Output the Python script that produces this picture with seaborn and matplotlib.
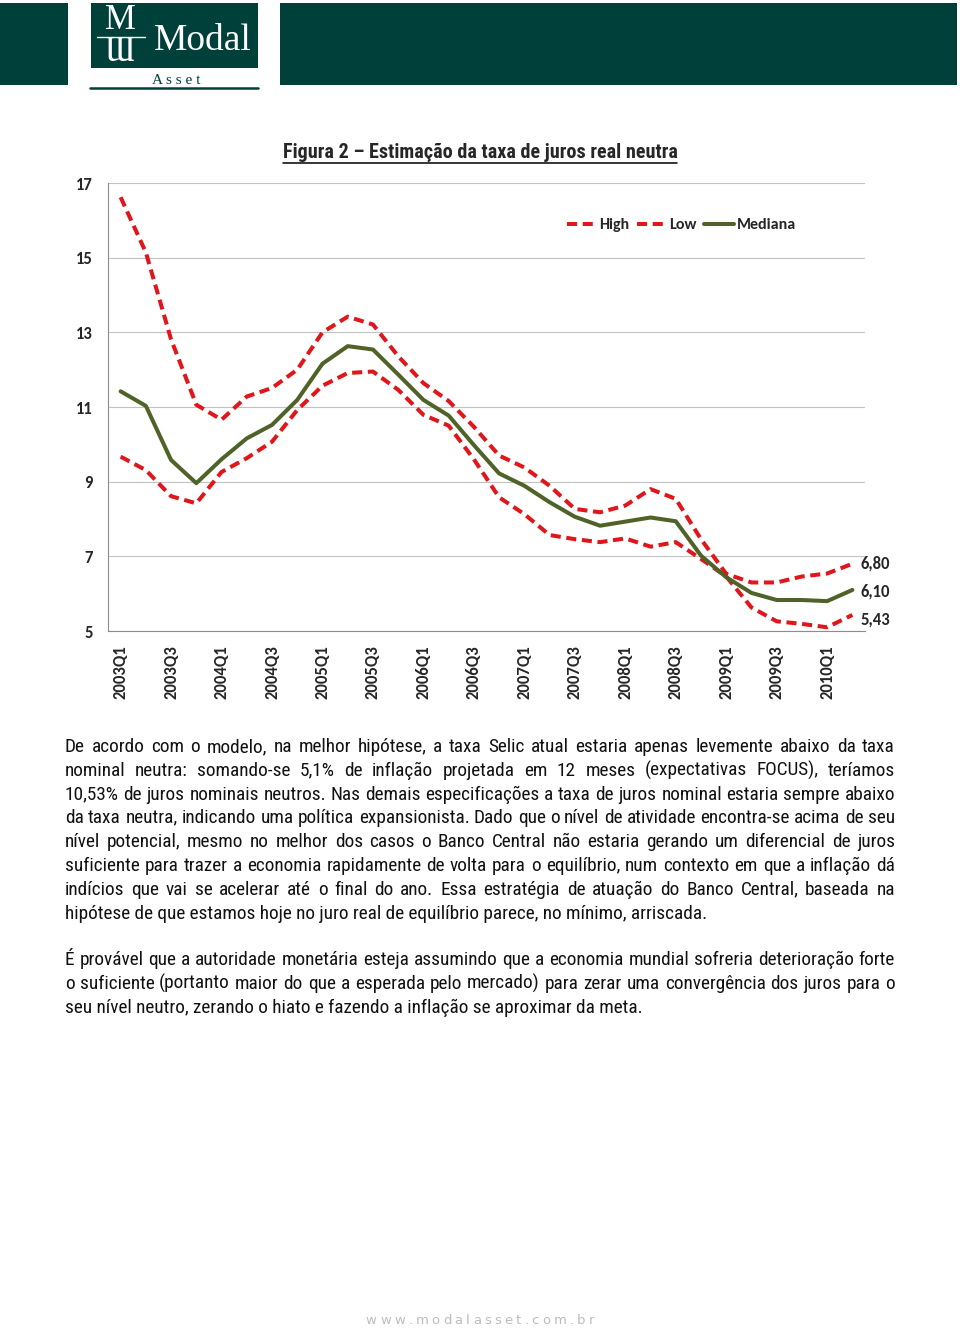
import numpy as np
import pandas as pd
import matplotlib
matplotlib.use('Agg')
import matplotlib.pyplot as plt
import seaborn as sns
from matplotlib.patches import Rectangle
from matplotlib.lines import Line2D

# quarterly estimates of the neutral real rate, 2003Q1 - 2010Q2
quarters = [f"{y}Q{q}" for y in range(2003, 2011) for q in range(1, 5)][:30]
high = [16.62, 15.14, 12.81, 11.06, 10.66, 11.28, 11.51, 12.00, 13.00, 13.42,
        13.21, 12.36, 11.64, 11.16, 10.47, 9.70, 9.38, 8.89, 8.27, 8.18,
        8.36, 8.80, 8.54, 7.46, 6.53, 6.30, 6.30, 6.46, 6.54, 6.80]
low = [9.67, 9.31, 8.61, 8.42, 9.26, 9.63, 10.07, 10.92, 11.57, 11.91,
       11.95, 11.46, 10.79, 10.50, 9.60, 8.58, 8.13, 7.57, 7.46, 7.38,
       7.48, 7.26, 7.38, 6.93, 6.46, 5.63, 5.26, 5.19, 5.10, 5.43]
mediana = [11.42, 11.03, 9.58, 8.96, 9.60, 10.16, 10.52, 11.19, 12.16, 12.63,
           12.54, 11.87, 11.19, 10.77, 9.98, 9.22, 8.89, 8.45, 8.06, 7.82,
           7.93, 8.04, 7.94, 7.02, 6.44, 6.02, 5.83, 5.83, 5.80, 6.10]
y_ticks = [5, 7, 9, 11, 13, 15, 17]

title = "Figura 2 \u2013 Estimação da taxa de juros real neutra"
par1 = [
    "De acordo com o modelo, na melhor hipótese, a taxa Selic atual estaria apenas levemente abaixo da taxa",
    "nominal neutra: somando-se 5,1% de inflação projetada em 12 meses (expectativas FOCUS), teríamos",
    "10,53% de juros nominais neutros. Nas demais especificações a taxa de juros nominal estaria sempre abaixo",
    "da taxa neutra, indicando uma política expansionista. Dado que o nível de atividade encontra-se acima de seu",
    "nível potencial, mesmo no melhor dos casos o Banco Central não estaria gerando um diferencial de juros",
    "suficiente para trazer a economia rapidamente de volta para o equilíbrio, num contexto em que a inflação dá",
    "indícios que vai se acelerar até o final do ano. Essa estratégia de atuação do Banco Central, baseada na",
    "hipótese de que estamos hoje no juro real de equilíbrio parece, no mínimo, arriscada.",
]
par2 = [
    "É provável que a autoridade monetária esteja assumindo que a economia mundial sofreria deterioração forte",
    "o suficiente (portanto maior do que a esperada pelo mercado) para zerar uma convergência dos juros para o",
    "seu nível neutro, zerando o hiato e fazendo a inflação se aproximar da meta.",
]
footer = "www.modalasset.com.br"

RED = '#e0161b'
GREEN = '#4f6228'
TEAL = '#00403a'
GRAY = '#8c8c8c'
NARROW = ['Roboto Condensed', 'PT Sans Narrow', 'Liberation Sans', 'DejaVu Sans']
SERIF = ['Liberation Serif', 'DejaVu Serif']

sns.set_style('white')
plt.rcParams['font.family'] = ['Carlito', 'Lato', 'DejaVu Sans']

df = pd.DataFrame({'pos': np.arange(len(quarters)), 'High': high, 'Low': low, 'Mediana': mediana})
long = df.melt(id_vars='pos', var_name='serie', value_name='valor')

fig = plt.figure(figsize=(9.6, 13.3), dpi=100)
W, H = 960, 1330
renderer = fig.canvas.get_renderer()


def fx(x):
    return x / W


def fy(y):
    return 1 - y / H


def width_of(s, **kw):
    tmp = fig.text(0, 0, s, **kw)
    w = tmp.get_window_extent(renderer).width
    tmp.remove()
    return w


# header blocks and logo
for x0, y0, x1, y1 in [(0, 3, 68, 85), (91, 3, 258, 68), (280, 3, 957, 85)]:
    fig.add_artist(Rectangle((fx(x0), fy(y1)), (x1 - x0) / W, (y1 - y0) / H,
                             transform=fig.transFigure, color=TEAL, lw=0))
fig.add_artist(Line2D([fx(90), fx(258)], [fy(88), fy(88)], transform=fig.transFigure,
                      color=TEAL, lw=1.8))
# monogram: M over a turned M
fig.text(fx(120), fy(4), "M\n\u019c", color='white', fontsize=25, family=SERIF,
         ha='center', va='top', ma='center', linespacing=0.95)
fig.add_artist(Line2D([fx(97), fx(145)], [fy(36.5), fy(36.5)], transform=fig.transFigure,
                      color='white', lw=1))
fig.text(fx(154), fy(50), "Modal", color='white', fontsize=27, family=SERIF,
         ha='left', va='baseline')
fig.text(fx(176), fy(84), "A s s e t", color=TEAL, fontsize=11, family=SERIF,
         ha='center', va='baseline')

# chart
ax = fig.add_axes([fx(108), fy(631), 757 / W, 448 / H])
sns.lineplot(data=long, x='pos', y='valor', hue='serie', style='serie', ax=ax,
             palette={'High': RED, 'Low': RED, 'Mediana': GREEN},
             dashes={'High': (2.5, 1.4), 'Low': (2.5, 1.4), 'Mediana': ''},
             lw=2.9, legend=False)
ax.set_xlim(-0.5, len(quarters) - 0.5)
ax.set_ylim(5, 17)
ax.set_xlabel('')
ax.set_ylabel('')
ax.set_yticks(y_ticks, labels=[str(t) for t in y_ticks], fontweight='bold', fontsize=12)
ax.set_xticks(df['pos'][::2], labels=quarters[::2], rotation=90, fontweight='bold', fontsize=12)
ax.set_xticks(np.arange(-0.5, len(quarters), 1), minor=True)
ax.tick_params(axis='x', which='major', length=0, pad=10)
ax.tick_params(axis='x', which='minor', length=5, color=GRAY, width=0.8)
ax.tick_params(axis='y', length=4, color=GRAY, width=0.8, pad=7)
ax.yaxis.grid(True, color='#c2c2c2', lw=0.8)
ax.set_axisbelow(True)
for s in ['top', 'right']:
    ax.spines[s].set_visible(False)
for s in ['left', 'bottom']:
    ax.spines[s].set_color(GRAY)
    ax.spines[s].set_linewidth(0.8)

handles = [Line2D([], [], color=RED, lw=2.9, dashes=(2.5, 1.4)),
           Line2D([], [], color=RED, lw=2.9, dashes=(2.5, 1.4)),
           Line2D([], [], color=GREEN, lw=2.9)]
ax.legend(handles, ['High', 'Low', 'Mediana'], loc='center left', bbox_to_anchor=(0.606, 0.906),
          ncol=3, frameon=False, handlelength=1.9, handletextpad=0.15, columnspacing=0.45,
          borderaxespad=0, borderpad=0, prop={'weight': 'bold', 'size': 11.5})

last = len(quarters) - 1
for serie, dy in [(high, 0), (mediana, -1), (low, -3)]:
    ax.annotate(f"{serie[last]:.2f}".replace('.', ','), xy=(last, serie[last]),
                xytext=(6, dy), textcoords='offset points', va='center', ha='left',
                fontweight='bold', fontsize=12, annotation_clip=False)

# title with underline, sized to the reference width
title_kw = dict(fontweight='bold', family=NARROW)
title_size = 10 * 394 / width_of(title, fontsize=10, **title_kw)
t = fig.text(fx(480), fy(153), title, ha='center', va='center', fontsize=title_size, **title_kw)
bb = t.get_window_extent(renderer)
fig.add_artist(Line2D([bb.x0 / W, bb.x1 / W], [fy(163), fy(163)], transform=fig.transFigure,
                      color='black', lw=1.1))

# justified body text
body_size = 10 * 641 / width_of(par1[-1], fontsize=10, family=NARROW)
body_kw = dict(fontsize=body_size, family=NARROW, color='#111111')


def draw_line(text, x0, x1, ybase, justify):
    if not justify:
        fig.text(fx(x0), fy(ybase), text, va='baseline', ha='left', **body_kw)
        return
    words = text.split()
    arts = [fig.text(0, fy(ybase), w, va='baseline', ha='left', **body_kw) for w in words]
    widths = [a.get_window_extent(renderer).width for a in arts]
    gap = (x1 - x0 - sum(widths)) / (len(words) - 1)
    x = x0
    for a, w in zip(arts, widths):
        a.set_x(fx(x))
        x += w + gap


for lines, y0 in [(par1, 752), (par2, 965)]:
    for i, line in enumerate(lines):
        draw_line(line, 65, 895, y0 + i * 23.8, i < len(lines) - 1)

# footer with wide letter spacing
foot_kw = dict(fontsize=9.5, color='#bdbdbd', family='DejaVu Sans')
cw = [width_of(c, **foot_kw) for c in footer]
track = 3.2
x = 480 - (sum(cw) + track * (len(cw) - 1)) / 2
for c, w in zip(footer, cw):
    fig.text(fx(x), fy(1321), c, ha='left', va='center', **foot_kw)
    x += w + track

fig.savefig('out.png', dpi=100)
